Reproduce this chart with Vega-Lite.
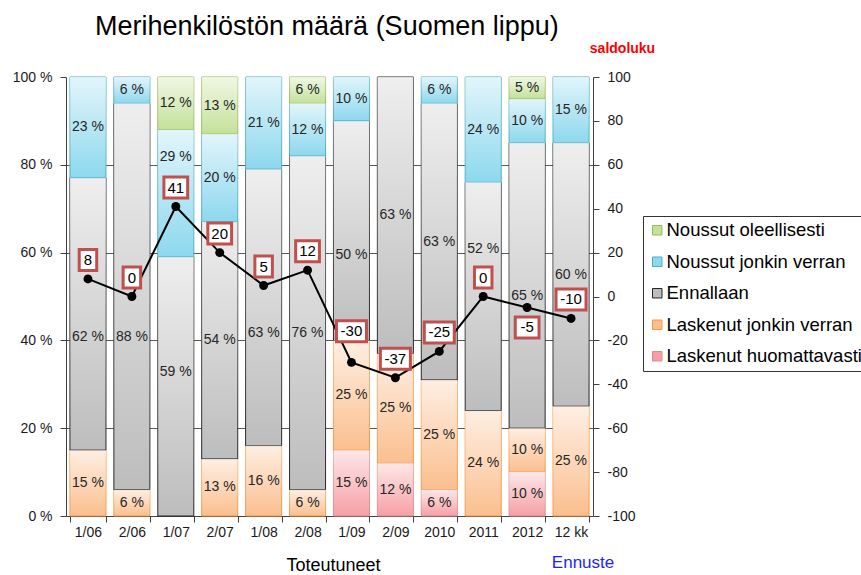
{
  "$schema": "https://vega.github.io/schema/vega-lite/v6.json",
  "width": 527,
  "height": 439,
  "autosize": "none",
  "padding": {"left": 66, "top": 77, "right": 268, "bottom": 59},
  "background": "white",
  "title": {"text": "Merihenkilöstön määrä (Suomen lippu)", "anchor": "start", "frame": "group", "dx": 29, "dy": 4, "font": "Liberation Sans", "fontSize": 27, "fontWeight": "normal", "color": "#000000"},
  "config": {"view": {"stroke": null}, "font": "Liberation Sans"},
  "datasets": {
    "pct": [
      {"p": "1/06", "c": "Laskenut jonkin verran", "v": 15},
      {"p": "1/06", "c": "Ennallaan", "v": 62},
      {"p": "1/06", "c": "Noussut jonkin verran", "v": 23},
      {"p": "2/06", "c": "Laskenut jonkin verran", "v": 6},
      {"p": "2/06", "c": "Ennallaan", "v": 88},
      {"p": "2/06", "c": "Noussut jonkin verran", "v": 6},
      {"p": "1/07", "c": "Ennallaan", "v": 59},
      {"p": "1/07", "c": "Noussut jonkin verran", "v": 29},
      {"p": "1/07", "c": "Noussut oleellisesti", "v": 12},
      {"p": "2/07", "c": "Laskenut jonkin verran", "v": 13},
      {"p": "2/07", "c": "Ennallaan", "v": 54},
      {"p": "2/07", "c": "Noussut jonkin verran", "v": 20},
      {"p": "2/07", "c": "Noussut oleellisesti", "v": 13},
      {"p": "1/08", "c": "Laskenut jonkin verran", "v": 16},
      {"p": "1/08", "c": "Ennallaan", "v": 63},
      {"p": "1/08", "c": "Noussut jonkin verran", "v": 21},
      {"p": "2/08", "c": "Laskenut jonkin verran", "v": 6},
      {"p": "2/08", "c": "Ennallaan", "v": 76},
      {"p": "2/08", "c": "Noussut jonkin verran", "v": 12},
      {"p": "2/08", "c": "Noussut oleellisesti", "v": 6},
      {"p": "1/09", "c": "Laskenut huomattavasti", "v": 15},
      {"p": "1/09", "c": "Laskenut jonkin verran", "v": 25},
      {"p": "1/09", "c": "Ennallaan", "v": 50},
      {"p": "1/09", "c": "Noussut jonkin verran", "v": 10},
      {"p": "2/09", "c": "Laskenut huomattavasti", "v": 12},
      {"p": "2/09", "c": "Laskenut jonkin verran", "v": 25},
      {"p": "2/09", "c": "Ennallaan", "v": 63},
      {"p": "2010", "c": "Laskenut huomattavasti", "v": 6},
      {"p": "2010", "c": "Laskenut jonkin verran", "v": 25},
      {"p": "2010", "c": "Ennallaan", "v": 63},
      {"p": "2010", "c": "Noussut jonkin verran", "v": 6},
      {"p": "2011", "c": "Laskenut jonkin verran", "v": 24},
      {"p": "2011", "c": "Ennallaan", "v": 52},
      {"p": "2011", "c": "Noussut jonkin verran", "v": 24},
      {"p": "2012", "c": "Laskenut huomattavasti", "v": 10},
      {"p": "2012", "c": "Laskenut jonkin verran", "v": 10},
      {"p": "2012", "c": "Ennallaan", "v": 65},
      {"p": "2012", "c": "Noussut jonkin verran", "v": 10},
      {"p": "2012", "c": "Noussut oleellisesti", "v": 5},
      {"p": "12 kk", "c": "Laskenut jonkin verran", "v": 25},
      {"p": "12 kk", "c": "Ennallaan", "v": 60},
      {"p": "12 kk", "c": "Noussut jonkin verran", "v": 15}
    ],
    "saldo": [
      {"p": "1/06", "s": 8},
      {"p": "2/06", "s": 0},
      {"p": "1/07", "s": 41},
      {"p": "2/07", "s": 20},
      {"p": "1/08", "s": 5},
      {"p": "2/08", "s": 12},
      {"p": "1/09", "s": -30},
      {"p": "2/09", "s": -37},
      {"p": "2010", "s": -25},
      {"p": "2011", "s": 0},
      {"p": "2012", "s": -5},
      {"p": "12 kk", "s": -10}
    ]
  },
  "layer": [
    {
      "data": {"name": "pct"},
      "transform": [
        {"calculate": "indexof(['Laskenut huomattavasti','Laskenut jonkin verran','Ennallaan','Noussut jonkin verran','Noussut oleellisesti'], datum.c)", "as": "o"},
        {"stack": "v", "groupby": ["p"], "sort": [{"field": "o"}], "as": ["lo", "hi"]},
        {"calculate": "(datum.lo + datum.hi) / 2", "as": "mid"},
        {"calculate": "datum.v + ' %'", "as": "lbl"}
      ],
      "encoding": {
        "x": {
          "field": "p", "type": "nominal",
          "sort": ["1/06","2/06","1/07","2/07","1/08","2/08","1/09","2/09","2010","2011","2012","12 kk"],
          "scale": {"paddingInner": 0.18, "paddingOuter": 0.09},
          "axis": {"title": "Toteutuneet", "titleFontSize": 18, "titleFontWeight": "normal", "titleColor": "#000000", "titleX": 267, "titleY": 49, "titleBaseline": "middle", "titleAlign": "center", "labelAngle": 0, "labelFontSize": 14, "labelColor": "#1a1a1a", "labelPadding": 3, "tickBand": "extent", "tickSize": 6, "tickColor": "#404040", "domainColor": "#404040"}
        }
      },
      "layer": [
        {
          "mark": {"type": "bar", "strokeWidth": 1},
          "encoding": {
            "y": {"field": "lo", "type": "quantitative", "scale": {"domain": [0, 100]},
              "axis": {"title": null, "values": [0, 20, 40, 60, 80, 100], "labelExpr": "datum.value + ' %'", "labelFontSize": 14, "labelColor": "#1a1a1a", "labelPadding": 8, "tickSize": 6, "tickColor": "#404040", "domainColor": "#404040", "grid": true, "gridColor": "#595959", "gridOpacity": {"condition": {"test": "datum.value == 0 || datum.value == 100", "value": 0}, "value": 1}}},
            "y2": {"field": "hi"},
            "color": {"field": "c", "type": "nominal",
              "scale": {"domain": ["Noussut oleellisesti", "Noussut jonkin verran", "Ennallaan", "Laskenut jonkin verran", "Laskenut huomattavasti"], "range": ["#c4e19a", "#8dd8ee", "#bdbdbd", "#fbbf8f", "#f6a0a6"]},
              "legend": {"orient": "none", "legendX": 577, "legendY": 139, "title": null, "symbolType": "square", "symbolSize": 90, "symbolStrokeWidth": 1, "labelFontSize": 18.5, "labelColor": "#000000", "labelOffset": 0, "rowPadding": 12.5, "padding": 5, "strokeColor": "#333333", "fillColor": "#ffffff", "labelLimit": 400}},
            "stroke": {"field": "c", "type": "nominal",
              "scale": {"domain": ["Noussut oleellisesti", "Noussut jonkin verran", "Ennallaan", "Laskenut jonkin verran", "Laskenut huomattavasti"], "range": ["#9bbb59", "#4bacc6", "#262626", "#f79646", "#d98c8c"]},
              "legend": {"orient": "none", "legendX": 577, "legendY": 139, "title": null, "symbolType": "square", "symbolSize": 90, "symbolStrokeWidth": 1, "labelFontSize": 18.5, "labelColor": "#000000", "labelOffset": 0, "rowPadding": 12.5, "padding": 5, "strokeColor": "#333333", "fillColor": "#ffffff", "labelLimit": 400}}
          }
        },
        {
          "mark": {"type": "bar", "fill": {"gradient": "linear", "x1": 0, "y1": 0, "x2": 0, "y2": 1, "stops": [{"offset": 0, "color": "rgba(255,255,255,0.75)"}, {"offset": 1, "color": "rgba(255,255,255,0)"}]}},
          "encoding": {
            "y": {"field": "lo", "type": "quantitative", "scale": {"domain": [0, 100]},
              "axis": {"title": null, "values": [0, 20, 40, 60, 80, 100], "labelExpr": "datum.value + ' %'", "labelFontSize": 14, "labelColor": "#1a1a1a", "labelPadding": 8, "tickSize": 6, "tickColor": "#404040", "domainColor": "#404040", "grid": true, "gridColor": "#595959", "gridOpacity": {"condition": {"test": "datum.value == 0 || datum.value == 100", "value": 0}, "value": 1}}},
            "y2": {"field": "hi"}
          }
        },
        {
          "mark": {"type": "text", "fontSize": 14, "color": "#262626", "baseline": "middle",
            "yOffset": {"expr": "datum.c == 'Ennallaan' ? (datum.p == '1/06' ? 23 : datum.p == '2/06' ? 40 : datum.p == '1/07' ? -14 : datum.p == '1/08' ? 26 : datum.p == '2/08' ? 10 : datum.p == '1/09' ? 24 : datum.p == '2011' ? -48 : datum.p == '2012' ? 10 : 0) : ((datum.c == 'Noussut jonkin verran' && datum.p == '1/07') ? -36 : 0)"}},
          "encoding": {
            "y": {"field": "mid", "type": "quantitative", "scale": {"domain": [0, 100]},
              "axis": {"title": null, "values": [0, 20, 40, 60, 80, 100], "labelExpr": "datum.value + ' %'", "labelFontSize": 14, "labelColor": "#1a1a1a", "labelPadding": 8, "tickSize": 6, "tickColor": "#404040", "domainColor": "#404040", "grid": true, "gridColor": "#595959", "gridOpacity": {"condition": {"test": "datum.value == 0 || datum.value == 100", "value": 0}, "value": 1}}},
            "text": {"field": "lbl"}
          }
        },
        {
          "data": {"values": [{"p": "12 kk", "t": "Ennuste"}]},
          "mark": {"type": "text", "fontSize": 17, "color": "#1f1fff", "baseline": "middle", "dx": 12},
          "encoding": {
            "y": {"datum": -10.7, "type": "quantitative", "scale": {"domain": [0, 100]},
              "axis": {"title": null, "values": [0, 20, 40, 60, 80, 100], "labelExpr": "datum.value + ' %'", "labelFontSize": 14, "labelColor": "#1a1a1a", "labelPadding": 8, "tickSize": 6, "tickColor": "#404040", "domainColor": "#404040", "grid": true, "gridColor": "#595959", "gridOpacity": {"condition": {"test": "datum.value == 0 || datum.value == 100", "value": 0}, "value": 1}}},
            "text": {"field": "t"}
          }
        }
      ]
    },
    {
      "data": {"name": "saldo"},
      "encoding": {
        "x": {"field": "p", "type": "nominal", "sort": ["1/06","2/06","1/07","2/07","1/08","2/08","1/09","2/09","2010","2011","2012","12 kk"],
          "scale": {"paddingInner": 0.18, "paddingOuter": 0.09},
          "axis": {"title": "Toteutuneet", "titleFontSize": 18, "titleFontWeight": "normal", "titleColor": "#000000", "titleX": 267, "titleY": 49, "titleBaseline": "middle", "titleAlign": "center", "labelAngle": 0, "labelFontSize": 14, "labelColor": "#1a1a1a", "labelPadding": 3, "tickBand": "extent", "tickSize": 6, "tickColor": "#404040", "domainColor": "#404040"}},
        "y": {"field": "s", "type": "quantitative", "scale": {"domain": [-100, 100]},
          "axis": {"orient": "right", "values": [-100, -80, -60, -40, -20, 0, 20, 40, 60, 80, 100], "labelExpr": "datum.value + ''", "title": "saldoluku", "titleAngle": 0, "titleX": 29, "titleY": -29, "titleAlign": "center", "titleBaseline": "middle", "titleColor": "#ff0000", "titleFontWeight": "bold", "titleFontSize": 14, "labelFontSize": 14, "labelColor": "#1a1a1a", "labelPadding": 8, "tickSize": 6, "tickColor": "#404040", "domainColor": "#404040", "grid": false}}
      },
      "layer": [
        {"mark": {"type": "line", "color": "#000000", "strokeWidth": 2}},
        {"mark": {"type": "point", "filled": true, "color": "#000000", "size": 80, "opacity": 1}},
        {
          "mark": {"type": "point", "filled": true, "fill": "#ffffff", "stroke": "#c0504d", "strokeWidth": 3, "size": 625, "opacity": 1, "yOffset": {"expr": "datum.p == '2012' ? 20 : (datum.p == '1/09' ? -31 : -19)"}},
          "encoding": {
            "shape": {"condition": [
              {"test": "length(toString(datum.s)) >= 3", "value": "M-1.2,-0.84H1.2V0.84H-1.2Z"},
              {"test": "length(toString(datum.s)) == 2", "value": "M-0.95,-0.84H0.95V0.84H-0.95Z"}
            ], "value": "M-0.7,-0.84H0.7V0.84H-0.7Z"}
          }
        },
        {
          "mark": {"type": "text", "fontSize": 15, "color": "#000000", "baseline": "middle", "yOffset": {"expr": "datum.p == '2012' ? 20 : (datum.p == '1/09' ? -31 : -19)"}},
          "encoding": {"text": {"field": "s", "type": "nominal"}}
        }
      ]
    }
  ],
  "resolve": {"scale": {"y": "independent"}}
}
